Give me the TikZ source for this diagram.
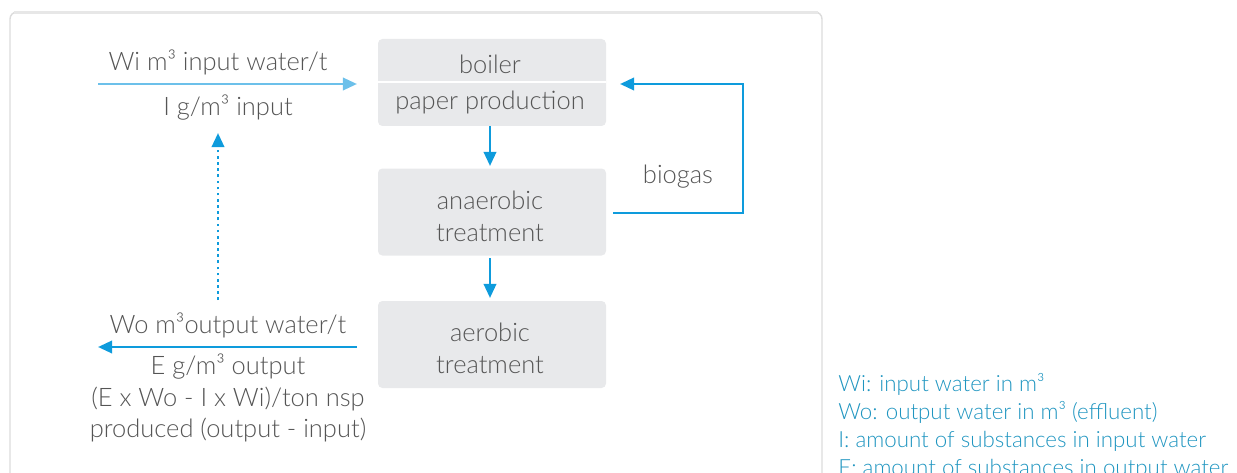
\documentclass[tikz,border=0pt]{standalone}
\usepackage{fontspec}
\setmainfont{Lato}[UprightFont={* Light}]
\usetikzlibrary{arrows.meta}
\definecolor{boxfill}{HTML}{E8E9EB}
\definecolor{txt}{HTML}{555555}
\definecolor{arr}{HTML}{0E9BDC}
\definecolor{larr}{HTML}{6CC0EA}
\definecolor{legend}{HTML}{1F95C0}
\definecolor{frame}{HTML}{DCDCDC}
\tikzset{
  procbox/.style={fill=boxfill, rounded corners=2.5pt, minimum width=228*0.02cm, align=center, inner sep=0pt},
  lbl/.style={text=txt, font=\fontsize{14.5pt}{18.1pt}\selectfont, inner sep=0pt, anchor=center},
  flow/.style={draw=arr, line width=1.5pt, -{Triangle[length=8pt,width=7pt]}},
  legtxt/.style={text=legend, font=\fontsize{12.7pt}{16pt}\selectfont, anchor=west, inner sep=0pt}
}
\begin{document}
\begin{tikzpicture}[x=0.02cm,y=-0.02cm]
\useasboundingbox (0,0) rectangle (1237,473);
\clip (0,0) rectangle (1237,473);
% outer frame
\draw[frame, line width=0.8pt, rounded corners=4pt] (10,500) -- (10,12) -- (822,12) -- (822,500);
\draw[frame!70, line width=1.2pt] (14,12.5) -- (818,12.5);
% boxes
\node[procbox, minimum height=87*0.02cm] (pp) at (492,82.5) {};
\draw[white, line width=1.6pt] (378,82) -- (606,82);
\node[lbl] (boiler) at (490,64) {boiler};
\node[lbl] (paper) at (490,102.5) {paper production};
\node[procbox, minimum height=87*0.02cm] (an) at (492,212) {};
\node[lbl, align=center] (antxt) at (490,216) {anaerobic\\treatment};
\node[procbox, minimum height=87*0.02cm] (ae) at (492,344.5) {};
\node[lbl, align=center] (aetxt) at (490,348) {aerobic\\treatment};
% down arrows
\draw[flow] (490,126) -- (490,166);
\draw[flow] (490,258) -- (490,298);
% biogas loop
\coordinate (bgs) at (613,213);
\coordinate (bgt) at (620,84);
\draw[flow] (bgs) -- (743,213) -- (743,84) -- (bgt);
\node[lbl] (biogas) at (678,177) {biogas};
% input arrow
\coordinate (inA) at (98,84);
\coordinate (inB) at (357,84);
\draw[draw=larr, line width=1.5pt, -{Triangle[length=8pt,width=7pt]}] (inA) -- (inB);
\node[lbl] (wi) at (218,62) {Wi m³ input water/t};
\node[lbl] (ig) at (228,108) {I g/m³ input};
% dotted
\coordinate (dA) at (218,300);
\coordinate (dB) at (218,133);
\draw[draw=arr, line width=1.5pt, dotted, -{Triangle[length=8pt,width=7pt]}] (dA) -- (dB);
% output arrow
\coordinate (outA) at (357,347);
\coordinate (outB) at (98,347);
\draw[flow] (outA) -- (outB);
\node[lbl] (wo) at (228,325) {Wo m³output water/t};
\node[lbl, align=center] (eg) at (228,398) {E g/m³ output\\(E x Wo - I x Wi)/ton nsp\\produced (output - input)};
% legend
\node[legtxt] (l1) at (838,384) {Wi: input water in m³};
\node[legtxt] (l2) at (838,412) {Wo: output water in m³ (effluent)};
\node[legtxt] (l3) at (838,441) {I: amount of substances in input water};
\node[legtxt] (l4) at (838,469) {E: amount of substances in output water};
\end{tikzpicture}
\end{document}
